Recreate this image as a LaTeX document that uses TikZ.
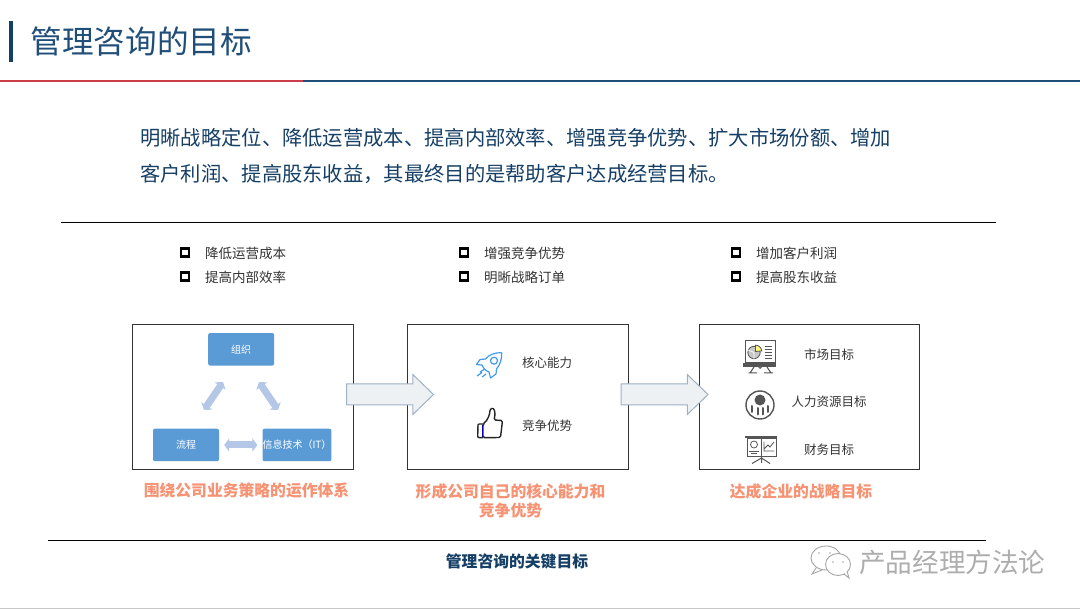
\documentclass[tikz,border=0pt]{standalone}
\usepackage{fontspec}
\setmainfont{Noto Sans CJK SC}
\usetikzlibrary{shapes.arrows,arrows.meta}
\definecolor{navy}{HTML}{1F4E79}
\definecolor{deepnavy}{HTML}{163F66}
\definecolor{salmon}{HTML}{F79273}
\definecolor{tileblue}{HTML}{5B9BD5}
\definecolor{paleblue}{HTML}{B4C7E7}
\definecolor{arrowfill}{HTML}{EEF1F3}
\definecolor{arrowedge}{HTML}{9FB2C4}
\definecolor{icongray}{HTML}{555555}
\definecolor{rulered}{HTML}{CC3F4A}
\definecolor{rocketblue}{HTML}{3F9BEE}
\newcommand{\fs}[1]{\fontsize{#1pt}{#1pt}\selectfont}
\tikzset{
  x=1pt,y=-1pt,
  frame/.style={draw=black!80,line width=1pt,fill=white},
  tile/.style={fill=tileblue,rounded corners=2pt,minimum width=66pt,minimum height=32.5pt,inner sep=0pt,text=white,font=\fs{10}},
  duplex/.style={draw=paleblue,line width=7pt,{Triangle[length=5pt,width=13pt]}-{Triangle[length=5pt,width=13pt]}},
  bigarrow/.style={single arrow,draw=arrowedge,fill=arrowfill,line width=1pt,minimum height=87pt,inner sep=0pt,single arrow head extend=9.5pt,single arrow tip angle=88,single arrow head indent=0pt,anchor=west},
  bulletmark/.style={draw=black,line width=2.4pt,minimum size=8pt,inner sep=0pt},
  listtext/.style={anchor=west,inner sep=0pt,text=black!80,font=\fs{13.5}},
  boxtext/.style={inner sep=0pt,text=black!80,font=\fs{12.5}},
  caption/.style={inner sep=0pt,text=salmon,font=\fs{15.8}\bfseries,align=center},
  ruleline/.style={line width=1.8pt,black},
  icon/.style={line width=1pt,icongray},
}
\begin{document}
\begin{tikzpicture}
\useasboundingbox (0,0) rectangle (1080,609);
\fill[white] (0,0) rectangle (1080,609);
% header
\fill[deepnavy] (9,21) rectangle (13,62);
\node[anchor=west,inner sep=0pt,text=navy,font=\fs{31.6}] (title) at (30.5,42) {管理咨询的目标};
\fill[navy] (0,80) rectangle (1080,82.4);
\fill[rulered] (0,80) rectangle (303,82.4);
% intro
\node[anchor=west,inner sep=0pt,text=deepnavy,font=\fs{20.3}] (intro1) at (140,137.5) {明晰战略定位、降低运营成本、提高内部效率、增强竞争优势、扩大市场份额、增加};
\node[anchor=west,inner sep=0pt,text=deepnavy,font=\fs{20.3}] (intro2) at (140,173.5) {客户利润、提高股东收益，其最终目的是帮助客户达成经营目标。};
\draw[ruleline] (61,222.5) -- (996,222.5);
% lists
\foreach \bx/\tx/\a/\b/\n in {185/205/降低运营成本/提高内部效率/a,464/484/增强竞争优势/明晰战略订单/b,736/756/增加客户利润/提高股东收益/c}{
  \node[bulletmark] (bul\n1) at (\bx,252.5) {};
  \node[bulletmark] (bul\n2) at (\bx,276.5) {};
  \node[listtext] (li\n1) at (\tx,253) {\a};
  \node[listtext] (li\n2) at (\tx,277) {\b};
}
% frames
\node[frame,minimum width=221pt,minimum height=145pt,inner sep=0pt] (box1) at (242.7,397) {};
\node[frame,minimum width=221.5pt,minimum height=145pt,inner sep=0pt] (box2) at (518,397) {};
\node[frame,minimum width=220.5pt,minimum height=145pt,inner sep=0pt] (box3) at (809.5,397) {};
% first box
\node[tile] (org) at (241.2,349.3) {组织};
\node[tile] (proc) at (186,445) {流程};
\node[tile,minimum width=65.5pt] (it) at (297,445) {信息技术（IT）};
\coordinate (la) at (204,410);\coordinate (lb) at (223,382);
\coordinate (ra) at (278,410);\coordinate (rb) at (259,382);
\draw[duplex] (la) -- (lb);
\draw[duplex] (ra) -- (rb);
\draw[duplex] ([xshift=5pt]proc.east) -- ([xshift=-5pt]it.west);
% block arrows
\node[bigarrow] (arrow1) at (346,394.5) {\rule{0pt}{20pt}};
\node[bigarrow] (arrow2) at (620.5,394.5) {\rule{0pt}{20pt}};
% second box
\node[boxtext] (core) at (547,363) {核心能力};
\node[boxtext] (adv) at (547,425.5) {竞争优势};
% rocket
\begin{scope}[line width=1.2pt,rocketblue]
\draw[line join=round] (501.7,352.7) .. controls (495,352.5) and (489,354.5) .. (485.5,359) -- (480,359.5) -- (476.5,364.5) -- (482,365) .. controls (483,368) and (486,371) .. (489,372) -- (490.5,378) -- (496,374) -- (496.5,369) .. controls (500,365) and (502,359) .. (501.7,352.7);
\draw (494,360.7) circle (3.5);
\draw (480,372) -- (484,369.5) (477,376) -- (482,372.5) (482,377) -- (486,374);
\end{scope}
% thumb
\begin{scope}[line width=1.4pt,draw=black!85,line join=round]
\draw[rounded corners=1pt] (483,424) -- (478,424) -- (477.7,437.5) -- (483,437.7);
\draw[rounded corners=1.5pt] (483,424) .. controls (488,420) and (490,414) .. (490,409) .. controls (494,407.5) and (496,411) .. (494,420) -- (502.5,420.5) -- (500.5,437.5) -- (483,437.7) -- cycle;
\draw[blue!70!black,line width=1pt] (482.5,425) -- (482.5,437);
\end{scope}
% third box
\node[boxtext] (market) at (829,354.5) {市场目标};
\node[boxtext] (hr) at (829,401.5) {人力资源目标};
\node[boxtext] (finance) at (829,449.5) {财务目标};
% market icon
\begin{scope}[icon]
\draw (745,341) rectangle (775,363);
\fill (743,363) rectangle (776,367);
\draw (750,373) -- (754,367) (771,373) -- (767,367) (748.5,373) -- (757,373) (764,373) -- (773,373);
\filldraw[fill=white] (760,367) circle (1.3);
\filldraw[fill=black!22,line width=.8pt] (754,352.5) circle (6.2);
\filldraw[fill=yellow!50,line width=.8pt] (755.5,351.5) -- (755.5,345.2) arc (-90:-5:6.3) -- cycle;
\draw[white,line width=.8pt] (754,352.5) -- (748.2,350) (754,352.5) -- (754,359);
\draw[line width=.7pt] (765,346) -- (772,346) (765,349) -- (772,349) (765,352) -- (772,352) (765,355) -- (772,355) (765,358) -- (772,358);
\end{scope}
% people icon
\begin{scope}[icon]
\draw[line width=1.4pt] (760,405) circle (14);
\fill (760,400) circle (5.5);
\draw[line width=2pt,line cap=round] (752,406) -- (752,412) (757.5,408) -- (757.5,414.5) (762.5,408) -- (762.5,414.5) (768,406) -- (768,412);
\end{scope}
% finance icon
\begin{scope}[icon]
\fill (745,436.5) rectangle (777,438.5);
\draw[line width=.8pt] (747,438) rectangle (776,456);
\draw[line width=.8pt] (761.5,438) -- (761.5,456);
\draw[line width=.8pt] (754,444.5) circle (3.5);
\draw[line width=.8pt] (749,451) -- (759,451) (751,453.5) -- (757,453.5);
\draw[line width=.8pt] (764,442) -- (764,451) -- (774,451) (764,449) -- (768,445) -- (770,447) -- (774,442);
\draw (761.5,456) -- (761.5,463) (752,463.5) -- (761.5,458) -- (770,463.5);
\end{scope}
% captions
\node[caption] (cap1) at (246.5,491) {围绕公司业务策略的运作体系};
\node[caption,text width=220pt] (cap2) at (510.5,500.5) {形成公司自己的核心能力和\\[3pt]竞争优势};
\node[caption] (cap3) at (801,491) {达成企业的战略目标};
\draw[ruleline] (48,540.5) -- (986,540.5);
\node[inner sep=0pt,text=deepnavy,font=\fs{15.8}\bfseries] (foot) at (517,562) {管理咨询的关键目标};
% watermark
\begin{scope}[line width=.9pt,draw=black!35]
\draw[fill=white] (826,558) ellipse (15 and 12);
\draw (816,568) -- (812,574) -- (822,570);
\fill[black!35] (819,553) circle (.9) (830,553) circle (.9);
\draw[fill=white] (838,564.5) ellipse (12.5 and 11);
\draw[fill=white,draw=white] (845,573) -- (849,577) -- (846,571) -- cycle;
\draw (844,574) -- (849,578) -- (847,571);
\fill[black!35] (833,562) circle (.9) (843,562) circle (.9);
\end{scope}
\node[anchor=west,inner sep=0pt,text=black!32,font=\fs{26.6}] (mark) at (859,562) {产品经理方法论};
\fill[black!22] (0,607.7) rectangle (1080,609);
\end{tikzpicture}
\end{document}
